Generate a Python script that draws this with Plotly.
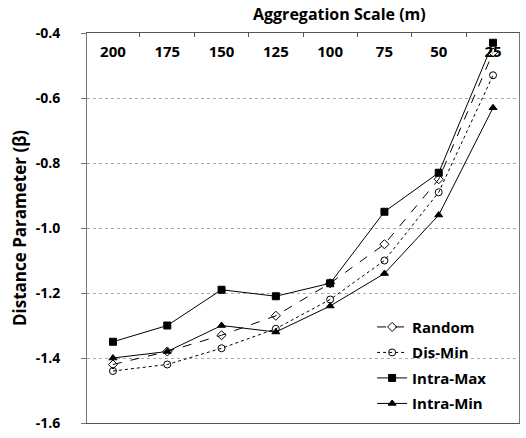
import plotly.graph_objects as go

scales = ["200", "175", "150", "125", "100", "75", "50", "25"]
random_vals = [-1.42, -1.38, -1.33, -1.27, -1.17, -1.05, -0.85, -0.46]
dismin_vals = [-1.44, -1.42, -1.37, -1.31, -1.22, -1.10, -0.89, -0.53]
intramax_vals = [-1.35, -1.30, -1.19, -1.21, -1.17, -0.95, -0.83, -0.43]
intramin_vals = [-1.40, -1.38, -1.30, -1.32, -1.24, -1.14, -0.96, -0.63]
y_ticks = [-1.6, -1.4, -1.2, -1.0, -0.8, -0.6, -0.4]
y_ticktext = [f"{v:.1f}" for v in y_ticks]

FONT = "Open Sans"

fig = go.Figure()
series = [
    ("Random", random_vals, "dash", "diamond-open"),
    ("Dis-Min", dismin_vals, "dot", "circle-open"),
    ("Intra-Max", intramax_vals, "solid", "square"),
    ("Intra-Min", intramin_vals, "solid", "triangle-up"),
]
for name, vals, dash, sym in series:
    fig.add_trace(go.Scatter(
        x=scales, y=vals, name=name, mode="lines+markers", legendgroup=name,
        line=dict(color="black", width=1, dash=dash),
        marker=dict(symbol=sym, size=7, color="black", line=dict(color="black", width=1)),
    ))

# invisible helper trace that carries the frame axis (top/bottom border with boundary ticks)
fig.add_trace(go.Scatter(
    x=scales, y=intramax_vals, xaxis="x2", mode="markers",
    marker=dict(opacity=0), showlegend=False, hoverinfo="skip",
))

fig.update_layout(
    width=526, height=438,
    margin=dict(l=87, r=6, t=33, b=10),
    paper_bgcolor="white", plot_bgcolor="white",
    font=dict(family=FONT, color="black", size=14),
    showlegend=True,
    legend=dict(
        x=0.66, y=0.288, xanchor="left", yanchor="top",
        bgcolor="rgba(255,255,255,0)",
        font=dict(family=FONT, size=15, color="black", weight="bold"),
        itemwidth=30, tracegroupgap=3,
    ),
    xaxis=dict(
        type="category", side="top", anchor="free", position=0.932,
        ticks="", showline=False, showgrid=False, zeroline=False,
        tickfont=dict(family=FONT, size=15, color="black", weight="bold"),
    ),
    xaxis2=dict(
        type="category", overlaying="x", side="top", anchor="y",
        ticks="inside", ticklen=4, tickson="boundaries", tickcolor="#555",
        showticklabels=False, showgrid=False, zeroline=False,
        showline=True, linecolor="#555", linewidth=1, mirror=True,
    ),
    yaxis=dict(
        range=[-1.6, -0.4], tickvals=y_ticks, ticktext=y_ticktext,
        tickfont=dict(family=FONT, size=14, color="black", weight="bold"),
        ticks="outside", ticklen=5, tickcolor="#777", ticklabelstandoff=18,
        showline=True, linecolor="#777", linewidth=1, mirror=True,
        showgrid=True, gridcolor="#aaa", griddash="dot", gridwidth=1,
        zeroline=False,
        title=dict(text="<b>Distance Parameter (β)</b>", standoff=4,
                   font=dict(family=FONT, size=17, color="black")),
    ),
    annotations=[dict(
        text="<b>Aggregation Scale (m)</b>", xref="paper", yref="paper",
        x=0.584, y=1.0, yshift=19, xanchor="center", yanchor="middle", showarrow=False,
        font=dict(family=FONT, size=16, color="black"),
    )],
)

fig.write_html("out.html")
